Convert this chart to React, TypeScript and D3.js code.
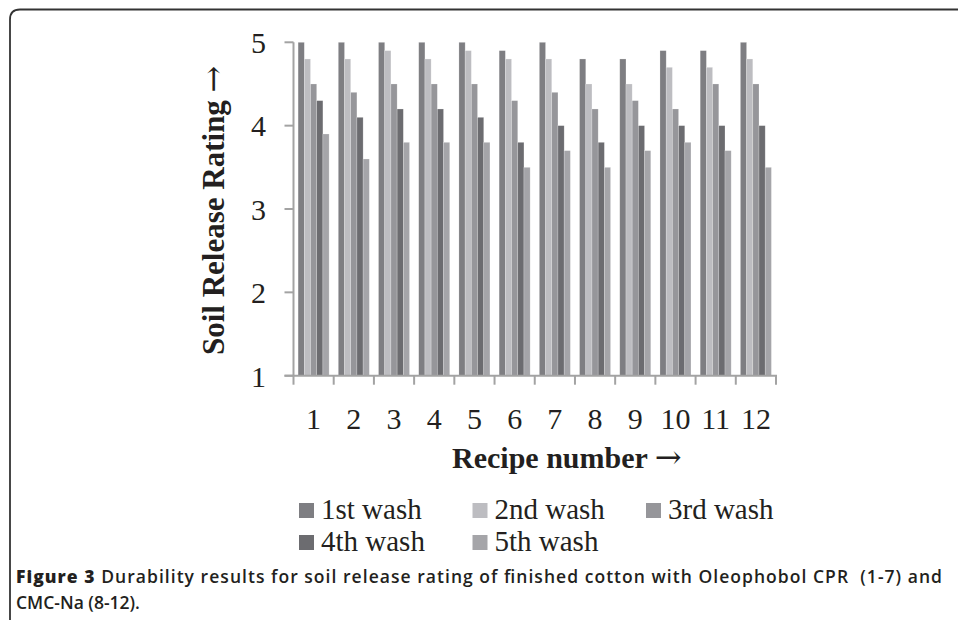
import { useMemo } from "react";
import * as d3 from "d3";

const WIDTH = 958;
const HEIGHT = 620;

// plot area (pixels in the page)
const PLOT = { left: 293.5, right: 776, top: 42.3, bottom: 375.7 };

const recipes = ["1", "2", "3", "4", "5", "6", "7", "8", "9", "10", "11", "12"];
const washNames = ["1st wash", "2nd wash", "3rd wash", "4th wash", "5th wash"];
const washColors = ["#7e7e82", "#bdbdc1", "#96969a", "#6c6c70", "#a5a5a9"];

const wash1 = [5, 5, 5, 5, 5, 4.9, 5, 4.8, 4.8, 4.9, 4.9, 5];
const wash2 = [4.8, 4.8, 4.9, 4.8, 4.9, 4.8, 4.8, 4.5, 4.5, 4.7, 4.7, 4.8];
const wash3 = [4.5, 4.4, 4.5, 4.5, 4.5, 4.3, 4.4, 4.2, 4.3, 4.2, 4.5, 4.5];
const wash4 = [4.3, 4.1, 4.2, 4.2, 4.1, 3.8, 4.0, 3.8, 4.0, 4.0, 4.0, 4.0];
const wash5 = [3.9, 3.6, 3.8, 3.8, 3.8, 3.5, 3.7, 3.5, 3.7, 3.8, 3.7, 3.5];
const series = [wash1, wash2, wash3, wash4, wash5];

const yTicks = [1, 2, 3, 4, 5];

const SERIF = "'Liberation Serif', 'Times New Roman', serif";
const ARROW_FONT = "'DejaVu Serif', serif";
const SANS = "'Open Sans', 'Noto Sans', sans-serif";
const AXIS_COLOR = "#a3a3a3";

const App = () => {
  const xScale = useMemo(
    () => d3.scaleBand().domain(recipes).range([PLOT.left, PLOT.right]).padding(0),
    []
  );
  const bw = xScale.bandwidth();
  const inner = useMemo(
    () => d3.scaleBand().domain(washNames).range([4.6, bw - 4.6]).padding(0),
    [bw]
  );
  const yScale = useMemo(
    () => d3.scaleLinear().domain([1, 5]).range([PLOT.bottom, PLOT.top]),
    []
  );

  // Build the bars
  const bars = recipes.map((r, i) =>
    series.map((vals, s) => {
      const x = (xScale(r) ?? 0) + (inner(washNames[s]) ?? 0);
      const y = yScale(vals[i]);
      return (
        <rect
          key={`${r}-${s}`}
          x={x}
          y={y}
          width={inner.bandwidth()}
          height={yScale(1) - y}
          fill={washColors[s]}
          stroke="#ffffff"
          strokeOpacity={0.35}
          strokeWidth={0.6}
        />
      );
    })
  );

  const xTickPos = [...recipes.map((r) => xScale(r) ?? 0), PLOT.right];

  return (
    <>
      <style>{"body{margin:0}"}</style>
      <svg width={WIDTH} height={HEIGHT} style={{ display: "block", background: "white" }}>
        {/* frame */}
        <path
          d={`M ${WIDTH + 5} 9.5 H 20 Q 10 9.5 10 19.5 V ${HEIGHT + 5}`}
          fill="none"
          stroke="#333"
          strokeWidth={1.8}
        />

        {bars}

        {/* y axis */}
        <line x1={PLOT.left} x2={PLOT.left} y1={PLOT.top} y2={PLOT.bottom} stroke={AXIS_COLOR} strokeWidth={2} />
        {yTicks.map((t) => (
          <g key={t}>
            <line x1={PLOT.left - 9} x2={PLOT.left} y1={yScale(t)} y2={yScale(t)} stroke={AXIS_COLOR} strokeWidth={2} />
            <text x={266} y={yScale(t) + 10.8} textAnchor="end" fontFamily={SERIF} fontSize={30} fill="#231f20">
              {t}
            </text>
          </g>
        ))}

        {/* x axis */}
        <line x1={PLOT.left - 9} x2={PLOT.right + 1} y1={PLOT.bottom} y2={PLOT.bottom} stroke={AXIS_COLOR} strokeWidth={2} />
        {xTickPos.map((x, i) => (
          <line key={i} x1={x} x2={x} y1={PLOT.bottom} y2={PLOT.bottom + 9} stroke={AXIS_COLOR} strokeWidth={2} />
        ))}
        {recipes.map((r) => (
          <text
            key={r}
            x={(xScale(r) ?? 0) + bw / 2}
            y={429}
            textAnchor="middle"
            fontFamily={SERIF}
            fontSize={30}
            fill="#231f20"
          >
            {r}
          </text>
        ))}

        {/* axis titles */}
        <text x={452} y={468} fontFamily={SERIF} fontSize={30} fontWeight="bold" fill="#231f20">
          Recipe number <tspan fontFamily={ARROW_FONT} fontWeight="normal" fontSize={32}>→</tspan>
        </text>
        <text
          transform={`translate(224, 355) rotate(-90)`}
          fontFamily={SERIF}
          fontSize={31}
          fontWeight="bold"
          fill="#231f20"
        >
          Soil Release Rating <tspan fontFamily={ARROW_FONT} fontWeight="normal" fontSize={32}>→</tspan>
        </text>

        {/* legend */}
        {washNames.map((name, i) => {
          const col = i % 3;
          const row = Math.floor(i / 3);
          const lx = 299 + col * 173.5;
          const ly = 503 + row * 32;
          return (
            <g key={name}>
              <rect x={lx} y={ly} width={15} height={15} fill={washColors[i]} />
              <text x={lx + 22} y={ly + 16} fontFamily={SERIF} fontSize={29} fill="#231f20">
                {name}
              </text>
            </g>
          );
        })}

        {/* caption (first line justified) */}
        <text
          x={16}
          y={583}
          fontFamily={SANS}
          fontSize={17.5}
          fontWeight={600}
          fill="#231f20"
          textLength={926}
          lengthAdjust="spacing"
          style={{ whiteSpace: "pre" }}
        >
          <tspan fontWeight={800}>Figure 3</tspan>
          <tspan>{" Durability results for soil release rating of finished cotton with Oleophobol CPR  (1-7) and"}</tspan>
        </text>
        <text x={16} y={609} fontFamily={SANS} fontSize={17.5} fontWeight={600} fill="#231f20">
          CMC-Na (8-12).
        </text>
      </svg>
    </>
  );
};

export default App;
